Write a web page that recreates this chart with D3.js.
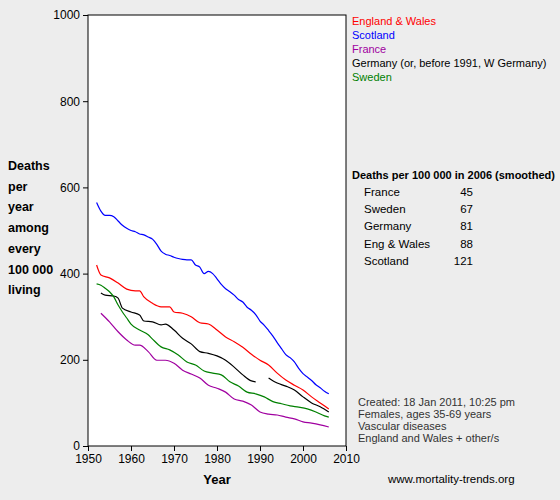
<!DOCTYPE html>
<html><head><meta charset="utf-8">
<script src="https://cdn.jsdelivr.net/npm/d3@7"></script>
<style>body{margin:0;background:#ededed;font-family:"Liberation Sans",Arial,sans-serif;}</style>
</head><body><svg id="chart" width="560" height="500"></svg>
<script>
// DATA
const englandWales = [[1952,420],[1953,397],[1955,390],[1957,378],[1959,364],[1961,360],[1962,360],[1963,346],[1965,331],[1967,323],[1969,323],[1970,311],[1972,308],[1974,300],[1976,286],[1978,283],[1980,269],[1982,253],[1984,242],[1986,229],[1988,213],[1990,199],[1992,188],[1994,169],[1996,153],[1998,141],[2000,130],[2002,114],[2004,100],[2006,86]];
const scotland = [[1952,565],[1953,545],[1954,535],[1955,535],[1956,532],[1957,522],[1958,512],[1959,505],[1960,500],[1961,497],[1962,492],[1963,490],[1964,485],[1965,480],[1966,468],[1967,452],[1968,445],[1969,442],[1970,438],[1971,435],[1972,433],[1973,432],[1974,432],[1975,420],[1976,415],[1977,400],[1978,405],[1979,400],[1980,388],[1981,375],[1982,365],[1983,358],[1984,350],[1985,340],[1986,334],[1987,322],[1988,315],[1989,305],[1990,290],[1991,280],[1992,268],[1993,255],[1994,240],[1995,226],[1996,212],[1997,205],[1998,195],[1999,180],[2000,168],[2001,160],[2002,152],[2003,142],[2004,135],[2005,127],[2006,121]];
const france = [[1953,308],[1955,288],[1957,265],[1959,246],[1961,234],[1962,234],[1964,219],[1966,199],[1968,199],[1970,192],[1972,176],[1974,167],[1976,158],[1978,141],[1980,134],[1982,125],[1984,109],[1986,104],[1988,95],[1990,79],[1992,74],[1994,72],[1996,67],[1998,63],[2000,56],[2002,53],[2004,49],[2006,44]];
const wGermany = [[1953,355],[1954,350],[1956,348],[1957,343],[1958,320],[1960,311],[1962,304],[1963,290],[1965,288],[1967,281],[1968,283],[1970,269],[1972,250],[1974,237],[1976,219],[1978,215],[1980,209],[1982,199],[1984,183],[1986,165],[1988,151],[1989,149]];
const germany = [[1992,158],[1994,146],[1996,139],[1998,130],[2000,114],[2002,100],[2004,91],[2006,79]];
const sweden = [[1952,376],[1953,373],[1954,366],[1955,358],[1956,346],[1957,327],[1958,311],[1959,297],[1960,283],[1962,269],[1964,258],[1965,248],[1967,230],[1969,223],[1971,211],[1973,195],[1975,188],[1977,174],[1979,169],[1981,165],[1983,149],[1985,139],[1987,125],[1989,121],[1991,114],[1993,103],[1995,98],[1997,93],[1999,90],[2001,86],[2003,79],[2005,70],[2006,67]];
const legendNames = ["England & Wales","Scotland","France","Germany (or, before 1991, W Germany)","Sweden"];
const legendColors = ["#ff0000","#0000ff","#a000a0","#000000","#008000"];
const tableNames = ["France","Sweden","Germany","Eng & Wales","Scotland"];
const tableValues = [45,67,81,88,121];
const yLabelLines = ["Deaths","per","year","among","every","100 000","living"];
const notes = ["Created: 18 Jan 2011, 10:25 pm","Females, ages 35-69 years","Vascular diseases","England and Wales + other/s"];

const svg = d3.select("#chart");
const x = d3.scaleLinear().domain([1950,2010]).range([88,346]);
const y = d3.scaleLinear().domain([0,1000]).range([446,15]);

svg.append("rect").attr("x",88).attr("y",15).attr("width",258).attr("height",431)
  .attr("fill","white").attr("stroke","black");

svg.append("g").attr("transform","translate(88,0)")
  .call(d3.axisLeft(y).tickValues([0,200,400,600,800,1000]).tickFormat(d3.format("d")).tickSize(5).tickSizeOuter(0))
  .call(g => g.selectAll("text").attr("font-size",12).attr("font-family","Liberation Sans, Arial").attr("fill","black"))
  .call(g => g.select(".domain").remove());
svg.append("g").attr("transform","translate(0,446)")
  .call(d3.axisBottom(x).tickValues(d3.range(1950,2011,10)).tickFormat(d3.format("d")).tickSize(5).tickSizeOuter(0))
  .call(g => g.selectAll("text").attr("font-size",12).attr("font-family","Liberation Sans, Arial").attr("fill","black"))
  .call(g => g.select(".domain").remove());

const line = d3.line().x(d => x(d[0])).y(d => y(d[1])).curve(d3.curveMonotoneX);
const series = [[englandWales,0],[scotland,1],[france,2],[wGermany,3],[germany,3],[sweden,4]];
series.forEach(([data,i]) => {
  svg.append("path").attr("d",line(data)).attr("fill","none")
    .attr("stroke",legendColors[i]).attr("stroke-width",1.2);
});

svg.append("text").attr("x",217).attr("y",484).attr("text-anchor","middle")
  .attr("font-weight","bold").attr("font-size",13).text("Year");
yLabelLines.forEach((t,i) => svg.append("text").attr("x",8).attr("y",170+i*20.7)
  .attr("font-weight","bold").attr("font-size",12.5).text(t));

legendNames.forEach((t,i) => svg.append("text").attr("x",352).attr("y",25+i*14)
  .attr("font-size",11).attr("fill",legendColors[i]).text(t));

svg.append("text").attr("x",352).attr("y",179).attr("font-weight","bold").attr("font-size",11)
  .text("Deaths per 100 000 in 2006 (smoothed)");
tableNames.forEach((t,i) => {
  svg.append("text").attr("x",364).attr("y",196+i*17.2).attr("font-size",11.5).text(t);
  svg.append("text").attr("x",473).attr("y",196+i*17.2).attr("font-size",11.5)
    .attr("text-anchor","end").text(tableValues[i]);
});

notes.forEach((t,i) => svg.append("text").attr("x",358).attr("y",406+i*12)
  .attr("font-size",11).attr("fill","#333").text(t));
svg.append("text").attr("x",388).attr("y",483).attr("font-size",11.5).text("www.mortality-trends.org");
</script></body></html>
